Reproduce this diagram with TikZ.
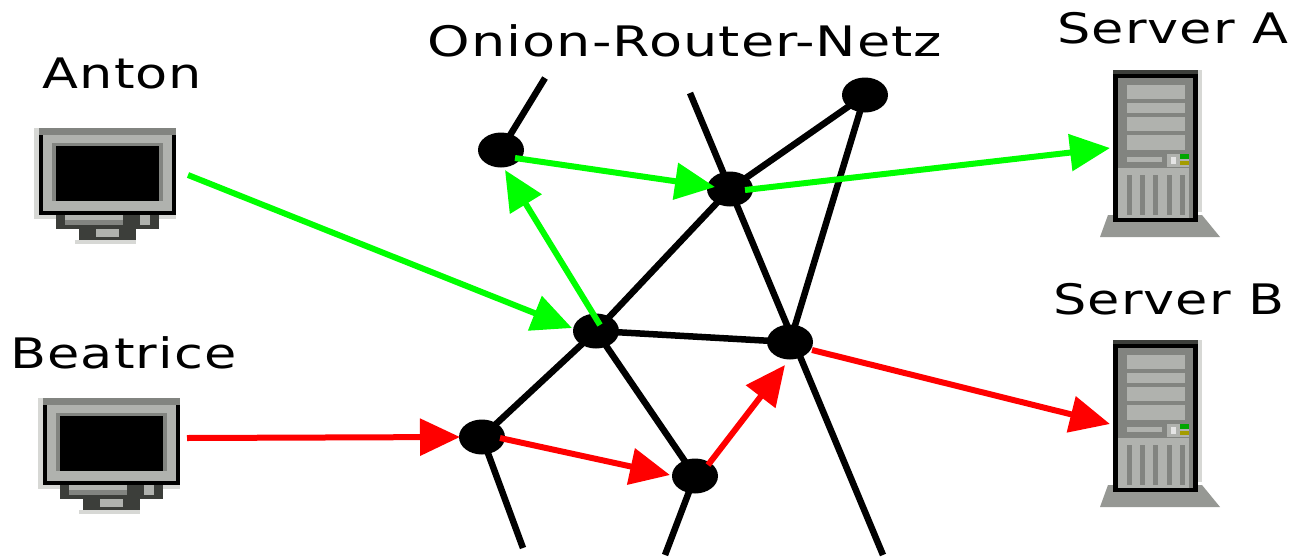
\documentclass[tikz,border=0pt]{standalone}
\usepackage{fontspec}
\newfontfamily\lab[FakeStretch=1.25,LetterSpace=2.5]{DejaVu Sans}
\usetikzlibrary{shapes.geometric,arrows.meta}
\definecolor{bodygrey}{RGB}{176,178,174}
\definecolor{lightgrey}{RGB}{215,216,213}
\definecolor{midgrey}{RGB}{130,132,128}
\definecolor{darkgrey}{RGB}{60,62,58}
\definecolor{basegrey}{RGB}{150,152,148}
\definecolor{arrowgreen}{RGB}{0,255,0}
\definecolor{arrowred}{RGB}{255,0,0}
\tikzset{
  router/.style={ellipse,fill=black,draw=none,minimum width=46pt,minimum height=35pt,inner sep=0pt},
  link/.style={draw=black,line width=6.5pt},
  flowgreen/.style={draw=arrowgreen,line width=6pt,-{Triangle[length=40pt,width=36pt]}},
  flowred/.style={draw=arrowred,line width=6pt,-{Triangle[length=40pt,width=36pt]}},
  label/.style={font=\lab\fontsize{42}{44}\selectfont,text=black,inner sep=0pt},
  monitor/.pic={
    \fill[lightgrey] (0,0) rectangle (5,91);
    \fill[lightgrey] (0,87) rectangle (142,91);
    \fill[black] (5,4) rectangle (142,87);
    \fill[midgrey] (5,0) rectangle (142,7);
    \fill[bodygrey] (9,7) rectangle (138,83);
    \fill[midgrey] (18,15) rectangle (129,73);
    \fill[black] (22,18) rectangle (125,73);
    \fill[lightgrey] (41,112) rectangle (102,116);
    \fill[darkgrey] (22,87) rectangle (125,101);
    \fill[bodygrey] (31,87) rectangle (89,92);
    \fill[midgrey] (31,92) rectangle (89,97);
    \fill[bodygrey] (106,87) rectangle (116,97);
    \fill[darkgrey] (45,98) rectangle (102,112);
    \fill[bodygrey] (62,101) rectangle (85,109);
  },
  server/.pic={
    \fill[basegrey] (-5,145) -- (-13,167) -- (107,167) -- (89,145) -- cycle;
    \fill[lightgrey] (85,0) rectangle (89,142);
    \fill[black] (0,0) rectangle (85,152);
    \fill[darkgrey] (0,0) rectangle (85,4);
    \fill[midgrey] (5,8) rectangle (80,148);
    \fill[bodygrey] (14,15) rectangle (72,29);
    \fill[bodygrey] (14,33) rectangle (72,43);
    \fill[bodygrey] (14,47) rectangle (72,61);
    \fill[bodygrey] (14,65) rectangle (72,80);
    \fill[bodygrey] (5,98) rectangle (76,148);
    \foreach \vx in {14,27,40,54,67} \fill[midgrey] (\vx,105) rectangle ++(5,40);
    \fill[bodygrey] (14,87) rectangle (49,92);
    \fill[bodygrey] (54,84) rectangle (76,97);
    \fill[green!65!black] (67,84) rectangle (76,89);
    \fill[olive!80!yellow] (67,91) rectangle (76,95);
    \fill[white!90!black] (58,87) rectangle (63,94);
  }
}
\begin{document}
\begin{tikzpicture}[x=1pt,y=-1pt]
\useasboundingbox (0,0) rectangle (1298,557);
\pic at (34,128) {monitor};
\pic at (38,398) {monitor};
\pic at (1113,70) {server};
\pic at (1113,340) {server};
\node[label] (antonlabel) at (122.5,73) {Anton};
\node[label] (beatricelabel) at (123.5,353) {Beatrice};
\node[label,xscale=1.03,transform shape] (netzlabel) at (685,41) {Onion-Router-Netz};
\node[label] (serveralabel) at (1173,28) {Server A};
\node[label] (serverblabel) at (1169,299) {Server B};
\coordinate (e1) at (545,78);
\coordinate (e2) at (690,93);
\coordinate (e3) at (883,555);
\coordinate (e4) at (523,548);
\coordinate (e5) at (665,555);
\node[router] (n1) at (501,150) {};
\node[router] (n2) at (730,189) {};
\node[router] (n3) at (865,95) {};
\node[router] (n4) at (596,331) {};
\node[router] (n5) at (790,342) {};
\node[router] (n6) at (482,437) {};
\node[router] (n7) at (695,476) {};
\draw[link] (e1) -- (n1.center);
\draw[link] (e2) -- (e3);
\draw[link] (n3.center) -- (n2.center) -- (n4.center) -- (n6.center) -- (e4);
\draw[link] (n3.center) -- (n5.center) -- (n4.center) -- (n7.center) -- (e5);
\coordinate (antonout) at (188,175);
\coordinate (beaout) at (187,438);
\coordinate (n4g) at (600,325);
\coordinate (n1g) at (515,158);
\coordinate (n2in) at (715,187);
\coordinate (n2g) at (745,190);
\coordinate (sa) at (1110,148);
\coordinate (sb) at (1110,424);
\coordinate (n5r) at (812,350);
\coordinate (n6in) at (460,437);
\coordinate (n6r) at (500,438);
\coordinate (n7in) at (670,475);
\coordinate (n7r) at (708,465);
\coordinate (n5in) at (785,365);
\coordinate (n1in) at (505,170);
\coordinate (n4in) at (572,328);
\draw[flowgreen] (antonout) -- (n4in);
\draw[flowgreen] (n4g) -- (n1in);
\draw[flowgreen] (n1g) -- (n2in);
\draw[flowgreen] (n2g) -- (sa);
\draw[flowred] (beaout) -- (n6in);
\draw[flowred] (n6r) -- (n7in);
\draw[flowred] (n7r) -- (n5in);
\draw[flowred] (n5r) -- (sb);
\end{tikzpicture}
\end{document}
